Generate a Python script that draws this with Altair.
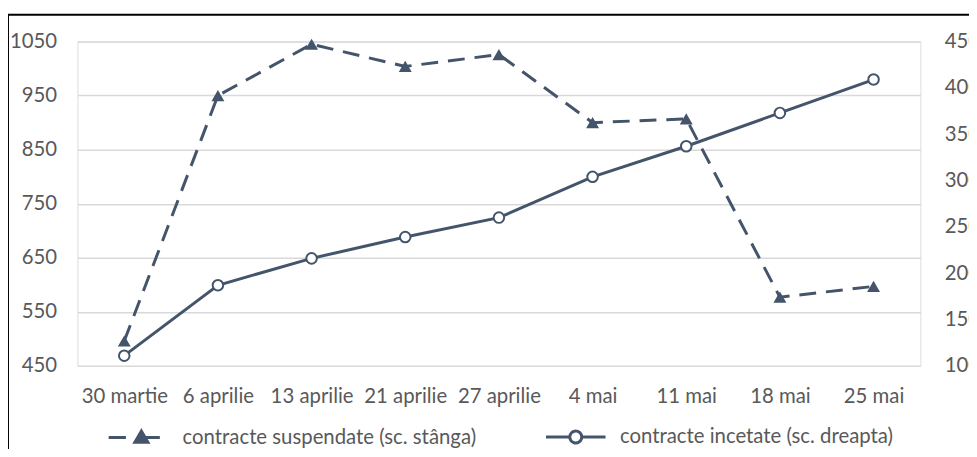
import altair as alt
import pandas as pd

categories = ["30 martie", "6 aprilie", "13 aprilie", "21 aprilie", "27 aprilie",
              "4 mai", "11 mai", "18 mai", "25 mai"]
suspendate = [496, 950, 1045, 1004, 1026, 900, 907, 577, 597]
incetate = [111, 187, 216, 239, 260, 304, 337, 373, 409]

name_s = "contracte suspendate (sc. stânga)"
name_i = "contracte incetate (sc. dreapta)"

left_ticks = [450, 550, 650, 750, 850, 950, 1050]
right_ticks = [100, 150, 200, 250, 300, 350, 400, 450]

COL = "#44546A"
LBL = "#595959"
FONT = "Lato"
FS = 20.5

df_s = pd.DataFrame({"date": categories, "value": suspendate, "series": name_s})
df_i = pd.DataFrame({"date": categories, "value": incetate, "series": name_i})

tri_path = ("M-1,0H-0.42M0.1,0H0.72"
            "M0.1,-0.22L0.32,0.16L-0.12,0.16Z")
circ_path = ("M-1,0H-0.2M0.2,0H1"
             "M0.2,0A0.2,0.2,0,1,1,-0.2,0A0.2,0.2,0,1,1,0.2,0Z")

x_enc = alt.X("date:N", sort=categories, title=None,
              scale=alt.Scale(type="point", padding=0.5),
              axis=alt.Axis(labelAngle=0, domain=False, ticks=False, tickSize=0,
                            labelPadding=21, labelColor=LBL, labelFont=FONT,
                            labelFontSize=FS, grid=False))

color_enc = alt.Color(
    "series:N",
    scale=alt.Scale(domain=[name_s, name_i], range=[COL, COL]),
    legend=alt.Legend(
        title=None, orient="none", legendX=30, legendY=367, direction="horizontal",
        symbolSize=3600, symbolStrokeWidth=3, labelFont=FONT, labelFontSize=FS,
        labelColor=LBL, labelLimit=0, labelOffset=13, columnPadding=63, padding=0,
        symbolType=alt.ExprRef(expr="datum.index === 0 ? '" + tri_path + "' : '" + circ_path + "'"),
        symbolFillColor=alt.ExprRef(expr="datum.index === 0 ? '" + COL + "' : 'white'"),
        symbolStrokeColor=COL,
        symbolDash=[1, 0],
    ),
)

y_left = alt.Y("value:Q", title=None,
               scale=alt.Scale(domain=[450, 1050], nice=False, zero=False),
               axis=alt.Axis(orient="left", values=left_ticks, format="d", domain=False,
                             ticks=False, tickSize=0, labelPadding=21, labelColor=LBL,
                             labelFont=FONT, labelFontSize=FS, gridColor="#D9D9D9",
                             gridWidth=1.5, grid=True))
y_right = alt.Y("value:Q", title=None,
                scale=alt.Scale(domain=[100, 450], nice=False, zero=False),
                axis=alt.Axis(orient="right", values=right_ticks, format="d", domain=False,
                              ticks=False, tickSize=0, labelPadding=24, labelColor=LBL,
                              labelFont=FONT, labelFontSize=FS, grid=False,
                              labelAlign="left"))

line_s = alt.Chart(df_s).mark_line(strokeWidth=3, strokeDash=[17, 10]).encode(
    x=x_enc, y=y_left, color=color_enc)
pts_s = alt.Chart(df_s).mark_point(shape="triangle-up", filled=True, size=170,
                                   color=COL, opacity=1).encode(x=x_enc, y=y_left)
left = alt.layer(line_s, pts_s)

line_i = alt.Chart(df_i).mark_line(strokeWidth=3).encode(
    x=x_enc, y=y_right, color=color_enc)
pts_i = alt.Chart(df_i).mark_point(shape="circle", filled=False, size=113, fill="white",
                                   fillOpacity=1, stroke=COL, strokeWidth=2,
                                   opacity=1).encode(x=x_enc, y=y_right)
right = alt.layer(line_i, pts_i)

frame = alt.Chart(pd.DataFrame({"k": [0]})).mark_rule(color="black", strokeWidth=2).encode(
    x=alt.value(-70), x2=alt.value(-70), y=alt.value(-27), y2=alt.value(420))
frame_top = alt.Chart(pd.DataFrame({"k": [0]})).mark_rule(color="black", strokeWidth=2).encode(
    x=alt.value(-70), x2=alt.value(920), y=alt.value(-27), y2=alt.value(-27))

chart = alt.layer(left, right, frame, frame_top).resolve_scale(y="independent").properties(
    width=850, height=327,
    autosize=alt.AutoSizeParams(type="none"),
    padding={"left": 70, "top": 32, "right": 49, "bottom": 82},
).configure_view(stroke=None).configure(background="white")

chart.save("out.html", embed_options={"renderer": "svg", "actions": False})
